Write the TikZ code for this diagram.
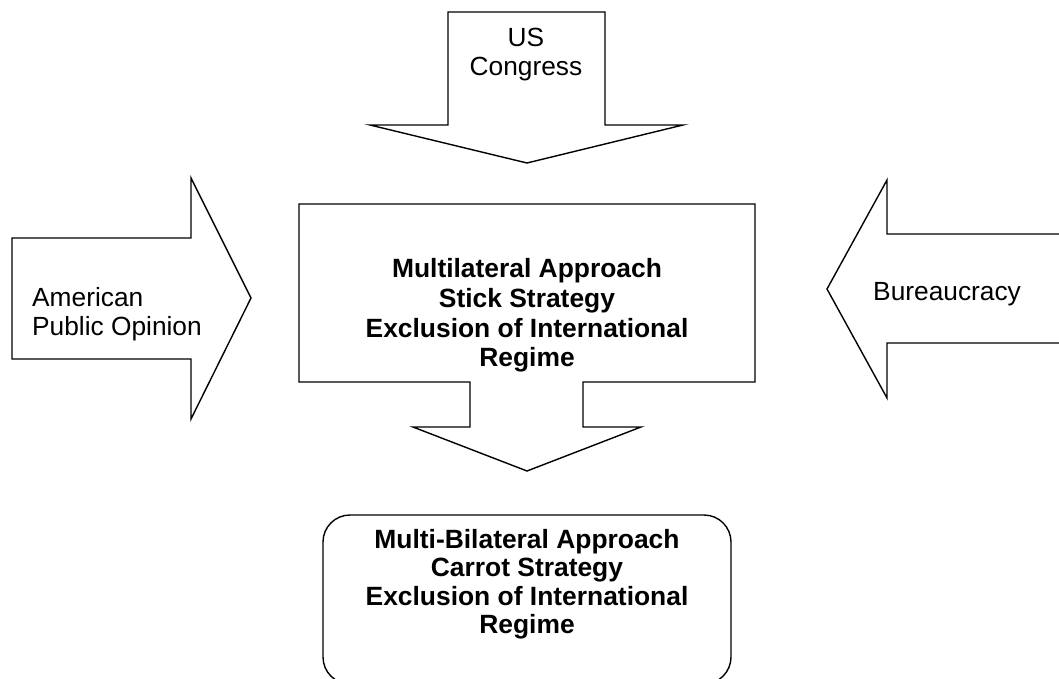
\documentclass[tikz,border=0pt]{standalone}
\usepackage{fontspec}
\setmainfont{Liberation Sans}
\begin{document}
\begin{tikzpicture}[x=1pt,y=-1pt,
  shapeline/.style={draw=black,line width=1.4pt,line join=miter,fill=white},
  plain/.style={inner sep=0pt,font=\fontsize{26.3}{29}\selectfont},
  boldtxt/.style={inner sep=0pt,align=center,font=\fontsize{26.4}{29.8}\selectfont\bfseries}]
\clip (0,0) rectangle (1059,679);
\fill[white] (0,0) rectangle (1059,679);
% top arrow (US Congress)
\draw[shapeline] (448,12) -- (605,12) -- (605,125) -- (683,125) -- (527,163) -- (370,125) -- (448,125) -- cycle;
% left arrow
\draw[shapeline] (12,238) -- (191,238) -- (191,178) -- (251,298) -- (191,419) -- (191,359) -- (12,359) -- cycle;
% right arrow
\draw[shapeline] (1070,234) -- (887,234) -- (887,180) -- (827,289) -- (887,398) -- (887,343) -- (1070,343);
% centre box with down arrow
\draw[shapeline] (299,204) -- (755,204) -- (755,382) -- (583,382) -- (583,427) -- (641,427) -- (527,471) -- (413,427) -- (470,427) -- (470,382) -- (299,382) -- cycle;
% bottom rounded box
\draw[shapeline,rounded corners=27pt] (323,515) rectangle (731,684);
% texts
\node[plain,align=center] (congress) at (526,54.5) {US\\Congress};
\node[plain,align=left,anchor=west] (opinion) at (32,314) {American\\Public Opinion};
\node[plain,anchor=base west] (bureau) at (873,300) {Bureaucracy};
\node[boldtxt] (stick) at (527,315.4) {Multilateral Approach\\Stick Strategy\\Exclusion of International\\Regime};
\node[boldtxt,font=\fontsize{26.4}{28.5}\selectfont\bfseries] (carrot) at (527,584) {Multi-Bilateral Approach\\Carrot Strategy\\Exclusion of International\\Regime};
\end{tikzpicture}
\end{document}
